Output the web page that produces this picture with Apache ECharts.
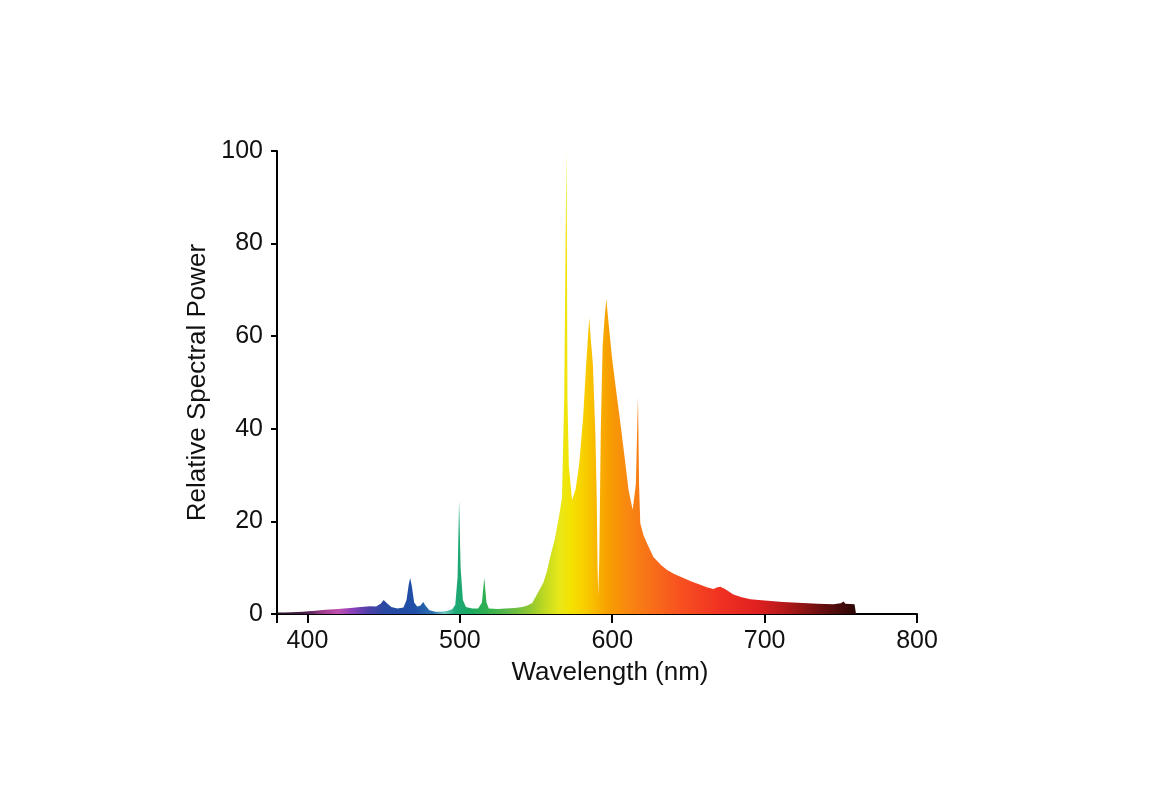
<!DOCTYPE html>
<html>
<head>
<meta charset="utf-8">
<title>Relative Spectral Power</title>
<script src="https://cdn.jsdelivr.net/npm/echarts@6/dist/echarts.min.js"></script>
<style>
  html, body { margin: 0; padding: 0; background: #fff; }
  #chart { width: 1150px; height: 800px; }
</style>
</head>
<body>
<div id="chart"></div>
<script>
// wavelength (nm) and relative spectral power
const wavelengths = [
  380, 385, 390, 397, 405, 412, 420, 428, 435, 441,
  445, 448, 450, 452, 455, 459, 463, 465, 466.5, 467.4,
  468.5, 470, 472, 474, 476, 477.5, 480, 484, 488, 492,
  495, 497, 498.5, 499.5, 500.5, 502, 504, 508, 512, 514.5,
  516, 517.5, 519, 525, 530, 536, 541, 544, 547.5, 551,
  554.7, 557, 559.3, 562.6, 565, 567, 568.5, 569.5, 569.9, 570.2,
  570.6, 571.5, 573.6, 576, 578.4, 581, 582.9, 584.9, 586, 587.3,
  589, 589.8, 590.4, 590.8, 591.5, 592.5, 593.7, 595, 596.1, 597.6,
  599.8, 602.5, 605.3, 608.1, 610.7, 613.4, 615.5, 616.9, 617.6, 618.4,
  620.5, 622.8, 627, 632, 636, 641, 646.7, 652,
  657.8, 662, 666.4, 669, 671, 674, 679.5, 685, 690.7, 700,
  712, 725, 735, 745, 750, 751.8, 753, 759, 760
];
const power = [
  0.3, 0.3, 0.4, 0.5, 0.7, 0.9, 1.1, 1.3, 1.5, 1.7,
  1.6, 2.2, 3.0, 2.4, 1.5, 1.2, 1.4, 3.0, 6.5, 7.8,
  6.0, 2.5, 1.6, 1.8, 2.6, 1.8, 0.8, 0.5, 0.5, 0.7,
  1.0, 2.0, 8.0, 24.5, 10.0, 3.0, 1.5, 1.2, 1.2, 2.5,
  7.8, 2.5, 1.2, 1.1, 1.2, 1.3, 1.5, 1.8, 2.4, 4.5,
  6.7, 9.0, 12.3, 16.6, 21.0, 25.0, 47.0, 85.0, 100.0, 85.0,
  47.0, 32.0, 24.6, 27.0, 32.6, 43.0, 54.0, 64.0, 59.0, 54.0,
  38.0, 25.0, 10.0, 4.0, 12.0, 40.0, 58.0, 64.0, 68.0, 62.8,
  55.5, 48.4, 41.3, 33.9, 26.8, 22.5, 28.0, 47.0, 28.0, 19.6,
  17.0, 15.3, 12.3, 10.6, 9.5, 8.6, 7.8, 7.0,
  6.3, 5.8, 5.4, 5.8, 5.9, 5.4, 4.2, 3.6, 3.2, 2.9,
  2.6, 2.4, 2.2, 2.1, 2.3, 2.7, 2.2, 2.1, 0
];
const xTicks = [380, 400, 500, 600, 700, 800];
const xLabels = [400, 500, 600, 700, 800];

// colour of the fill along the wavelength range
const spectrum = [
  [380, '#201020'], [400, '#502050'], [410, '#a03c8c'], [420, '#c050b0'],
  [430, '#8840b8'], [440, '#5040aa'], [450, '#2a48a2'], [470, '#1f4ea6'],
  [482, '#2a70b0'], [490, '#70c8c0'], [497, '#1fa878'], [506, '#18a862'],
  [518, '#32b050'], [532, '#5cb848'], [545, '#8cc634'], [555, '#bcd822'],
  [565, '#e8e81a'], [573, '#f4e200'], [581, '#f8d000'], [589, '#f8b800'],
  [597, '#f8a000'], [610, '#f88810'], [625, '#f87018'], [645, '#f85020'],
  [670, '#f03222'], [695, '#e02020'], [715, '#b01818'], [735, '#701010'],
  [760, '#2a0606']
];

const chart = echarts.init(document.getElementById('chart'));

const lo = wavelengths[0];
const hi = wavelengths[wavelengths.length - 1];
const stops = spectrum.map(s => ({ offset: (s[0] - lo) / (hi - lo), color: s[1] }));

const font = 'Liberation Sans, Arial, sans-serif';

const option = {
  animation: false,
  grid: { left: 277, right: 233, top: 151, bottom: 186 },
  xAxis: {
    type: 'value',
    min: 380,
    max: 800,
    name: 'Wavelength (nm)',
    nameLocation: 'middle',
    nameGap: 46,
    nameTextStyle: { fontSize: 26, color: '#111', fontFamily: font, padding: [0, 0, 0, 26] },
    axisLine: { lineStyle: { color: '#000', width: 2 } },
    axisTick: { show: true, length: 9, customValues: xTicks, lineStyle: { color: '#000', width: 2 } },
    axisLabel: { customValues: xLabels, fontSize: 25, margin: 15, color: '#111', fontFamily: font },
    splitLine: { show: false }
  },
  yAxis: {
    type: 'value',
    min: 0,
    max: 100,
    interval: 20,
    name: 'Relative Spectral Power',
    nameLocation: 'middle',
    nameGap: 53,
    nameTextStyle: { fontSize: 26, color: '#111', fontFamily: font },
    axisLine: { show: true, lineStyle: { color: '#000', width: 2 } },
    axisTick: { show: true, length: 6, lineStyle: { color: '#000', width: 2 } },
    axisLabel: { fontSize: 25, margin: 14, color: '#111', fontFamily: font },
    splitLine: { show: false }
  },
  series: [
    {
      type: 'line',
      data: wavelengths.map((w, i) => [w, power[i]]),
      showSymbol: false,
      smooth: false,
      lineStyle: { width: 0, opacity: 0 },
      areaStyle: {
        opacity: 1,
        color: new echarts.graphic.LinearGradient(0, 0, 1, 0, stops)
      },
      z: 1
    }
  ]
};

chart.setOption(option);
</script>
</body>
</html>
